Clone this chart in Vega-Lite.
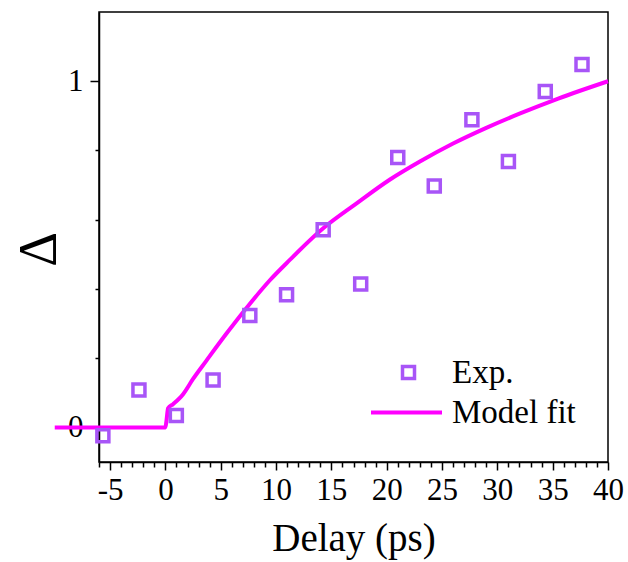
{
  "$schema": "https://vega.github.io/schema/vega-lite/v6.json",
  "width": 509,
  "height": 450,
  "autosize": "none",
  "padding": {"left": 99, "top": 12, "right": 20, "bottom": 100},
  "background": "white",
  "config": {
    "view": {"stroke": "black", "strokeWidth": 1.5},
    "font": "Liberation Serif",
    "axis": {"grid": false, "domainColor": "black", "domainWidth": 1.5, "tickColor": "black", "tickWidth": 1.5, "labelColor": "black", "titleColor": "black", "labelFont": "Liberation Serif", "titleFont": "Liberation Serif", "titleFontWeight": "normal", "labelFontSize": 31},
    "legend": {"labelFont": "Liberation Serif", "labelColor": "black", "labelFontSize": 33}
  },
  "datasets": {
    "exp": [
      {"delay": -5.65, "delta": -0.024, "series": "Exp."},
      {"delay": -2.39, "delta": 0.108, "series": "Exp."},
      {"delay": 0.99, "delta": 0.034, "series": "Exp."},
      {"delay": 4.31, "delta": 0.137, "series": "Exp."},
      {"delay": 7.63, "delta": 0.323, "series": "Exp."},
      {"delay": 10.95, "delta": 0.383, "series": "Exp."},
      {"delay": 14.26, "delta": 0.571, "series": "Exp."},
      {"delay": 17.65, "delta": 0.414, "series": "Exp."},
      {"delay": 21.0, "delta": 0.78, "series": "Exp."},
      {"delay": 24.3, "delta": 0.697, "series": "Exp."},
      {"delay": 27.7, "delta": 0.889, "series": "Exp."},
      {"delay": 31.0, "delta": 0.768, "series": "Exp."},
      {"delay": 34.33, "delta": 0.97, "series": "Exp."},
      {"delay": 37.65, "delta": 1.048, "series": "Exp."}
    ],
    "fit": [
      {"delay": -10, "delta": 0, "series": "Model fit"},
      {"delay": 0, "delta": 0, "series": "Model fit"},
      {"delay": 0.1, "delta": 0.02, "series": "Model fit"},
      {"delay": 0.24, "delta": 0.055, "series": "Model fit"},
      {"delay": 0.69, "delta": 0.067, "series": "Model fit"},
      {"delay": 1.6, "delta": 0.096, "series": "Model fit"},
      {"delay": 2.5, "delta": 0.14, "series": "Model fit"},
      {"delay": 3.71, "delta": 0.193, "series": "Model fit"},
      {"delay": 5.52, "delta": 0.271, "series": "Model fit"},
      {"delay": 7.33, "delta": 0.345, "series": "Model fit"},
      {"delay": 9.44, "delta": 0.425, "series": "Model fit"},
      {"delay": 11.22, "delta": 0.483, "series": "Model fit"},
      {"delay": 14.26, "delta": 0.575, "series": "Model fit"},
      {"delay": 17.28, "delta": 0.647, "series": "Model fit"},
      {"delay": 20.3, "delta": 0.716, "series": "Model fit"},
      {"delay": 23.0, "delta": 0.768, "series": "Model fit"},
      {"delay": 26.0, "delta": 0.82, "series": "Model fit"},
      {"delay": 29.05, "delta": 0.866, "series": "Model fit"},
      {"delay": 32.06, "delta": 0.907, "series": "Model fit"},
      {"delay": 35.5, "delta": 0.95, "series": "Model fit"},
      {"delay": 40, "delta": 1.0, "series": "Model fit"}
    ]
  },
  "encoding": {
    "x": {"field": "delay", "type": "quantitative", "scale": {"domain": [-6, 40], "nice": false, "zero": false},
      "axis": {"title": "Delay (ps)", "titleFontSize": 39, "titleBaseline": "alphabetic", "titleY": 88,
        "values": [-6,-5,-4,-3,-2,-1,0,1,2,3,4,5,6,7,8,9,10,11,12,13,14,15,16,17,18,19,20,21,22,23,24,25,26,27,28,29,30,31,32,33,34,35,36,37,38,39,40],
        "labelExpr": "datum.value % 5 === 0 ? '' + datum.value : ''",
        "labelFontSize": 31, "labelPadding": 5, "labelOverlap": false, "labelFlush": false, "labelBound": false,
        "tickSize": {"condition": {"test": "datum.value % 5 === 0", "value": 8}, "value": 5}}},
    "y": {"field": "delta", "type": "quantitative", "scale": {"domain": [-0.1, 1.2], "nice": false, "zero": false},
      "axis": {"title": "Δ", "titleFontSize": 54, "titleAngle": -90, "titleX": -60, "titleY": 237, "titleBaseline": "middle", "titleAlign": "center",
        "values": [0, 0.2, 0.4, 0.6, 0.8, 1],
        "labelExpr": "datum.value === 0 || datum.value === 1 ? '' + datum.value : ''",
        "labelFontSize": 31, "labelPadding": 7, "labelOverlap": false, "labelFlush": false, "labelBound": false,
        "tickSize": {"condition": {"test": "datum.value === 0 || datum.value === 1", "value": 9}, "value": 4}}}
  },
  "layer": [
    {
      "data": {"name": "fit"},
      "mark": {"type": "line", "strokeWidth": 4, "interpolate": "monotone", "clip": false},
      "encoding": {
        "stroke": {"field": "series", "type": "nominal", "scale": {"domain": ["Model fit"], "range": ["#ff00ff"]},
          "legend": {"title": null, "orient": "none", "legendX": 270, "legendY": 363, "symbolType": "stroke", "symbolSize": 5041, "symbolStrokeWidth": 4, "labelFontSize": 33, "labelOffset": 8, "padding": 0}}
      }
    },
    {
      "data": {"name": "exp"},
      "mark": {"type": "point", "shape": "square", "size": 144, "strokeWidth": 3.5, "filled": false, "opacity": 1},
      "encoding": {
        "color": {"field": "series", "type": "nominal", "scale": {"domain": ["Exp."], "range": ["#a855f7"]},
          "legend": {"title": null, "orient": "none", "legendX": 293, "legendY": 344, "symbolType": "square", "symbolSize": 144, "symbolStrokeWidth": 3.5, "symbolFillColor": "transparent", "labelFontSize": 33, "labelOffset": 27, "padding": 0}}
      }
    },
    {
      "data": {"values": [{}]},
      "mark": {"type": "text", "fontSize": 29, "font": "Liberation Serif", "color": "black", "baseline": "alphabetic", "align": "center", "text": "Liquid phase XAS"},
      "encoding": {
        "x": {"datum": 16.3, "type": "quantitative"},
        "y": {"datum": 1.074, "type": "quantitative"}
      }
    }
  ]
}
